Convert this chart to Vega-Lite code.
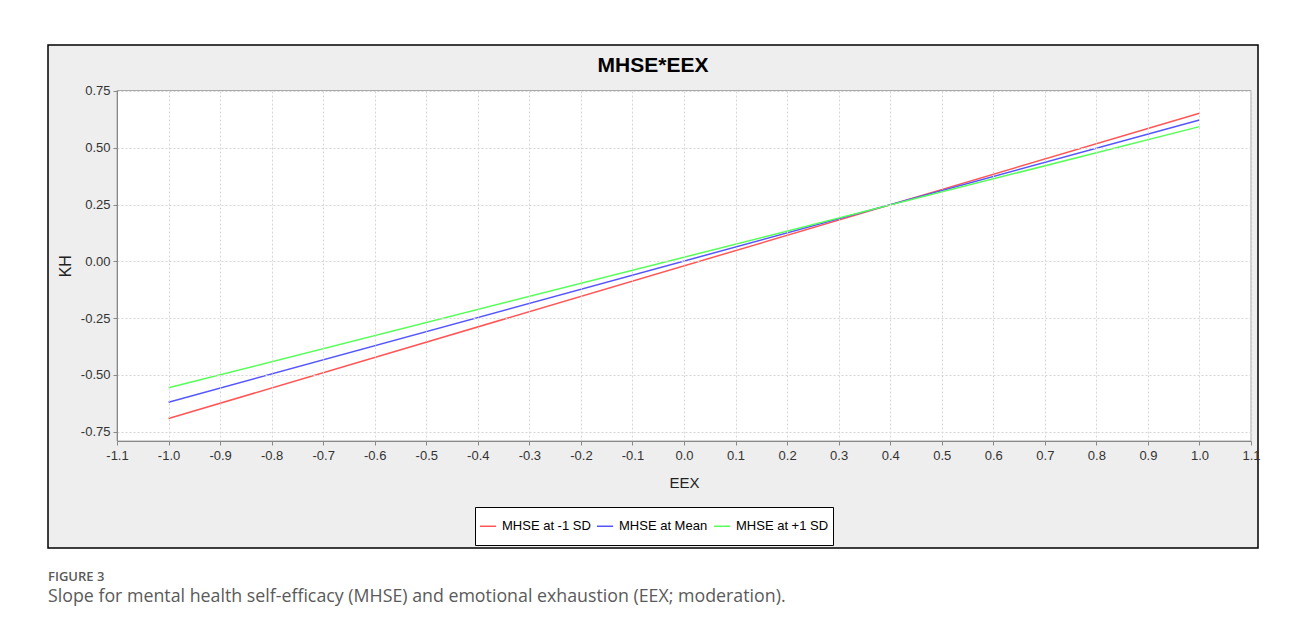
{
  "$schema": "https://vega.github.io/schema/vega-lite/v6.json",
  "padding": {"left": 47, "top": 44, "right": 0, "bottom": 0},
  "background": "white",
  "title": {
    "text": "FIGURE 3",
    "subtitle": "Slope for mental health self-efficacy (MHSE) and emotional exhaustion (EEX; moderation).",
    "orient": "bottom",
    "anchor": "start",
    "frame": "group",
    "offset": 22,
    "font": "Open Sans",
    "fontSize": 13,
    "fontWeight": 600,
    "color": "#5a5a5a",
    "subtitleFont": "Open Sans",
    "subtitleFontSize": 17.8,
    "subtitleColor": "#5a5a5a",
    "subtitlePadding": 4
  },
  "vconcat": [
    {
      "width": 1210,
      "height": 503,
      "title": {
        "text": "MHSE*EEX",
        "frame": "group",
        "anchor": "middle",
        "offset": -48,
        "baseline": "alphabetic",
        "font": "Liberation Sans",
        "fontSize": 21,
        "fontWeight": "bold",
        "color": "black"
      },
      "resolve": {"axis": {"x": "independent"}},
      "layer": [
        {
          "data": {"values": [{}]},
          "mark": {"type": "rect", "fill": "white", "stroke": "#a8a8a8", "strokeWidth": 1},
          "encoding": {
            "x": {
              "datum": -1.1,
              "type": "quantitative",
              "scale": {"domain": [-1.1, 1.1], "range": [69, 1203], "nice": false, "zero": false},
              "axis": {
                "orient": "top",
                "title": null,
                "values": [-1.1, -1.0, -0.9, -0.8, -0.7, -0.6, -0.5, -0.4, -0.3, -0.2, -0.1, 0.0, 0.1, 0.2, 0.3, 0.4, 0.5, 0.6, 0.7, 0.8, 0.9, 1.0, 1.1],
                "labels": false,
                "ticks": false,
                "domain": false,
                "grid": true,
                "gridColor": "#d6d6d6",
                "gridDash": [2, 2],
                "zindex": 1
              }
            },
            "x2": {"datum": 1.1},
            "y": {"datum": -0.791, "type": "quantitative", "scale": {"domain": [-0.791, 0.752], "range": [396, 45.5], "nice": false, "zero": false}},
            "y2": {"datum": 0.752}
          }
        },
        {
          "data": {
            "values": [
              {"EEX": -1.0, "KH": -0.692, "MHSE": "MHSE at -1 SD"},
              {"EEX": 1.0, "KH": 0.652, "MHSE": "MHSE at -1 SD"},
              {"EEX": -1.0, "KH": -0.620, "MHSE": "MHSE at Mean"},
              {"EEX": 1.0, "KH": 0.622, "MHSE": "MHSE at Mean"},
              {"EEX": -1.0, "KH": -0.557, "MHSE": "MHSE at +1 SD"},
              {"EEX": 1.0, "KH": 0.593, "MHSE": "MHSE at +1 SD"}
            ]
          },
          "mark": {"type": "line", "strokeWidth": 1.5},
          "encoding": {
            "x": {
              "field": "EEX",
              "type": "quantitative",
              "scale": {"domain": [-1.1, 1.1], "range": [69, 1203], "nice": false, "zero": false},
              "axis": {
                "orient": "bottom",
                "title": "EEX",
                "values": [-1.1, -1.0, -0.9, -0.8, -0.7, -0.6, -0.5, -0.4, -0.3, -0.2, -0.1, 0.0, 0.1, 0.2, 0.3, 0.4, 0.5, 0.6, 0.7, 0.8, 0.9, 1.0, 1.1],
                "labelExpr": "replace(format(datum.value, '.1f'), '\u2212', '-')",
                "offset": -107,
                "grid": false,
                "domainColor": "#888888",
                "tickColor": "#888888",
                "tickSize": 4,
                "labelPadding": 4,
                "labelFont": "Liberation Sans",
                "labelFontSize": 13,
                "labelColor": "#333333",
                "labelFlush": false,
                "labelOverlap": false,
                "titleFont": "Liberation Sans",
                "titleFontSize": 15,
                "titleFontWeight": "normal",
                "titleColor": "#222222",
                "titlePadding": 13,
                "zindex": 1
              }
            },
            "y": {
              "field": "KH",
              "type": "quantitative",
              "scale": {"domain": [-0.791, 0.752], "range": [396, 45.5], "nice": false, "zero": false},
              "axis": {
                "title": "KH",
                "values": [-0.75, -0.5, -0.25, 0, 0.25, 0.5, 0.75],
                "labelExpr": "replace(format(datum.value, '.2f'), '\u2212', '-')",
                "offset": -69,
                "grid": true,
                "gridColor": "#d6d6d6",
                "gridDash": [2, 2],
                "domainColor": "#888888",
                "tickColor": "#888888",
                "tickSize": 4,
                "labelPadding": 3,
                "labelFont": "Liberation Sans",
                "labelFontSize": 13,
                "labelColor": "#333333",
                "labelOverlap": false,
                "titleFont": "Liberation Sans",
                "titleFontSize": 16,
                "titleFontWeight": "normal",
                "titleColor": "#222222",
                "titlePadding": 7,
                "zindex": 1
              }
            },
            "color": {
              "field": "MHSE",
              "type": "nominal",
              "scale": {"domain": ["MHSE at -1 SD", "MHSE at Mean", "MHSE at +1 SD"], "range": ["#ff5555", "#5555ff", "#55ff55"]},
              "legend": {
                "title": null,
                "orient": "none",
                "legendX": 427,
                "legendY": 462,
                "direction": "horizontal",
                "padding": 4,
                "strokeColor": "black",
                "fillColor": "white",
                "symbolType": "M-1,-0.82M-1,0.82M-1,0H0.15",
                "symbolSize": 784,
                "symbolStrokeWidth": 1.5,
                "labelOffset": -7,
                "columnPadding": 3,
                "labelFont": "Liberation Sans",
                "labelFontSize": 13,
                "labelColor": "black",
                "labelLimit": 300
              }
            }
          }
        }
      ]
    }
  ],
  "config": {
    "view": {"fill": "#eeeeee", "stroke": "black", "strokeWidth": 1.5}
  }
}
